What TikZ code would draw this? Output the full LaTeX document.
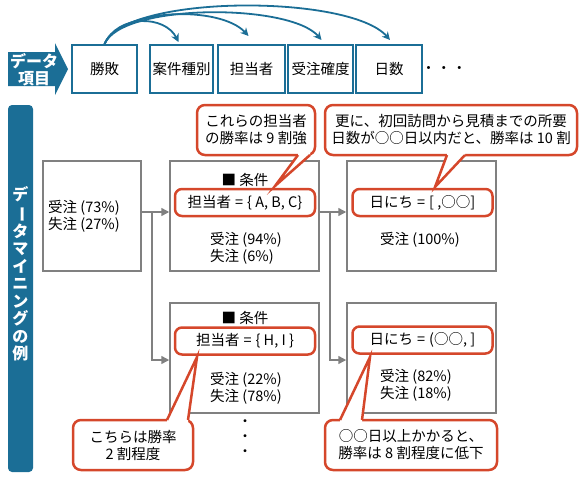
\documentclass[tikz,border=0pt]{standalone}
\usepackage{fontspec}
\setmainfont{Noto Sans CJK JP}
\usepackage{tikz}
\usetikzlibrary{arrows.meta, positioning, calc}
\definecolor{DM_Blue}{HTML}{1B6E96}
\definecolor{DM_Red}{HTML}{D5472B}
\definecolor{DM_Gray}{HTML}{808080}

\begin{document}
\begin{tikzpicture}[x=1pt, y=-1pt,
    every node/.style={font=\fontsize{14.5}{17}\selectfont, inner sep=0pt},
    itembox/.style={draw=DM_Blue, line width=2pt, minimum height=48pt},
    databox/.style={draw=DM_Gray, line width=1.5pt, minimum width=#1, minimum height=110pt},
    condbox/.style={draw=DM_Red, line width=2.5pt, rounded corners=7pt, fill=white, minimum width=140pt, minimum height=27pt},
    callout/.style={draw=DM_Red, line width=2.5pt, rounded corners=8pt, fill=white, align=center, minimum height=50pt},
    flow/.style={DM_Gray, line width=1.5pt, -{Triangle[length=8pt,width=8pt]}},
    link/.style={DM_Blue, line width=1.8pt, -{Stealth[length=8pt,width=8pt]}}]
    \useasboundingbox (0,0) rectangle (580,480);

    % Data items
    \fill[DM_Blue] (8,52) -- (55,52) -- (55,43) -- (68,69) -- (55,95) -- (55,86) -- (8,86) -- cycle;
    \node[white, align=center, font=\fontsize{16}{17}\selectfont\bfseries] (itemlabel) at (34,70) {データ\\項目};
    \node[itembox, minimum width=65pt] (shohai) at (104.5,69) {勝敗};
    \node[itembox, minimum width=63pt] (anken) at (181.5,69) {案件種別};
    \node[itembox, minimum width=67pt] (tanto) at (251.5,69) {担当者};
    \node[itembox, minimum width=65pt] (kakudo) at (320.5,69) {受注確度};
    \node[itembox, minimum width=66pt] (nissu) at (389,69) {日数};
    \node (more) at (444,70) {・\kern1pt・\kern1pt・};

    % Links from the result
    \draw[link] (shohai.north) .. controls (118,14) and (165,15) .. ([xshift=-3pt,yshift=2pt]anken.north);
    \draw[link] (shohai.north) .. controls (120,8) and (220,5) .. ([xshift=-3pt,yshift=8pt]tanto.north);
    \draw[link] (shohai.north) .. controls (122,3) and (290,3) .. ([xshift=1pt,yshift=4pt]kakudo.north);
    \draw[link] (shohai.north) .. controls (125,-6) and (350,-6) .. ([xshift=1pt,yshift=4pt]nissu.north);

    % Side label
    \node[fill=DM_Blue, rounded corners=4pt, minimum width=25pt, minimum height=367pt] (side) at (20.5,288.5) {};
    \node[white, align=center, font=\fontsize{16}{17.5}\selectfont\bfseries] (sidelabel) at (20.5,274)
        {デ\\\rotatebox[origin=c]{-90}{ー}\\タ\\マ\\イ\\ニ\\ン\\グ\\の\\例};

    % Data boxes
    \node[databox=98pt] (g0) at (92,216) {};
    \node[databox=149pt] (g1) at (244.5,216) {};
    \node[databox=149pt] (g2) at (421.5,216) {};
    \node[databox=149pt] (g3) at (244.5,358) {};
    \node[databox=149pt] (g4) at (421.5,358) {};

    \node[anchor=west, align=left] (g0txt) at (48,216) {受注 (73\%)\\失注 (27\%)};
    \node (g1head) at (245,180) {■ 条件};
    \node[anchor=west, align=left] (g1txt) at (210,248) {受注 (94\%)\\失注 (6\%)};
    \node[anchor=west] (g2txt) at (380,240) {受注 (100\%)};
    \node (g3head) at (245,318) {■ 条件};
    \node[anchor=west, align=left] (g3txt) at (210,388) {受注 (22\%)\\失注 (78\%)};
    \node[anchor=west, align=left] (g4txt) at (380,385) {受注 (82\%)\\失注 (18\%)};
    \node[align=center, font=\fontsize{14}{15}\selectfont] (etc) at (245,438) {・\\・\\・};

    % Splits
    \coordinate (b1) at (152,212);
    \coordinate (b2) at (330,212);
    \draw[flow] ([yshift=4pt]g0.east) -- ([yshift=4pt]g1.west);
    \draw[flow] ([yshift=4pt]g1.east) -- ([yshift=4pt]g2.west);
    \draw[flow] (b1) |- ([yshift=-2pt]g3.west);
    \draw[flow] (b2) |- ([yshift=-2pt]g4.west);

    % Conditions
    \node[condbox] (r1) at (245,202.5) {担当者\hspace{4pt}=\hspace{4pt}\{ A, B, C\}};
    \node[condbox] (r2) at (422.5,202.5) {日にち\hspace{4pt}=\hspace{4pt}[ ,○○]};
    \node[condbox] (r3) at (245,341) {担当者\hspace{4pt}=\hspace{4pt}\{ H, I \}};
    \node[condbox] (r4) at (422.5,340) {日にち\hspace{4pt}=\hspace{4pt}(○○, ]};

    % Callouts
    \node[callout, minimum width=118pt] (c1) at (256,130) {これらの担当者\\の勝率は 9 割強};
    \fill[white] (298,155) -- (275,186) -- (310,155) -- (310,151) -- (298,151) -- cycle;
    \draw[DM_Red, line width=2.5pt, line join=miter] (298,155) -- (275,186) -- (310,155);

    \node[callout, minimum width=252pt] (c2) at (451,130) {更に、初回訪問から見積までの所要\\日数が○○日以内だと、勝率は 10 割};
    \fill[white] (447,155) -- (435,187) -- (465,155) -- (465,151) -- (447,151) -- cycle;
    \draw[DM_Red, line width=2.5pt, line join=miter] (447,155) -- (435,187) -- (465,155);

    \node[callout, minimum width=120pt] (c3) at (133,445) {こちらは勝率\\2 割程度};
    \fill[white] (167,420) -- (197,357) -- (188,420) -- (188,424) -- (167,424) -- cycle;
    \draw[DM_Red, line width=2.5pt, line join=miter] (167,420) -- (197,357) -- (188,420);

    \node[callout, minimum width=172pt] (c4) at (411,445) {○○日以上かかると、\\勝率は 8 割程度に低下};
    \fill[white] (340,420) -- (370,357) -- (362,420) -- (362,424) -- (340,424) -- cycle;
    \draw[DM_Red, line width=2.5pt, line join=miter] (340,420) -- (370,357) -- (362,420);
\end{tikzpicture}
\end{document}
